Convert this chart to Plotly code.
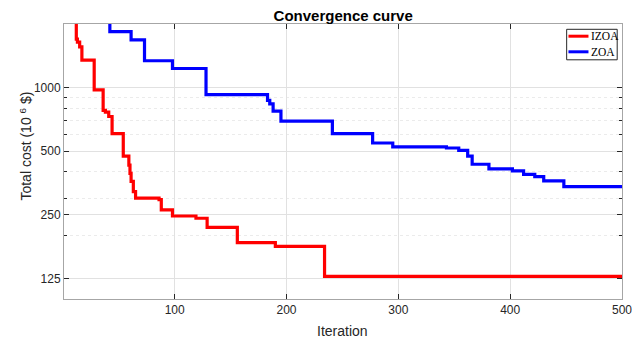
import plotly.graph_objects as go

# ---- data (step breakpoints) ----
izoa_iter = [1, 12, 13, 15, 17, 28, 36, 38, 41, 44, 54, 59, 60, 61, 63, 65, 86, 88, 98, 119, 129, 156, 190, 234, 500]
izoa_cost = [3500, 1695, 1640, 1560, 1350, 975, 780, 765, 730, 606, 474, 430, 393, 360, 322, 300, 295, 264, 247, 241, 218, 185, 177.5, 128, 128]

zoa_iter = [1, 42, 61, 73, 98, 128, 183, 185, 188, 195, 241, 277, 295, 343, 354, 362, 366, 381, 402, 412, 422, 430, 448, 500]
zoa_cost = [3500, 1840, 1682, 1340, 1232, 927, 870, 838, 774, 694, 606, 547, 524, 518, 505, 474, 434, 413, 404, 389, 379, 362, 340, 340]

series_names = ["IZOA", "ZOA"]
series_colors = ["#ff0000", "#0000ff"]

y_ticks = [125, 250, 500, 1000]
y_minor = [100, 200, 300, 400, 600, 700, 800, 900, 2000]
x_ticks = [100, 200, 300, 400, 500]

AX = "#262626"
BOX = "#a6a6a6"
GRID = "#e1e1e1"
MINOR = "#ebebeb"
FONT = "Liberation Sans, Arial, sans-serif"
SERIF = "Liberation Serif, Times New Roman, serif"

# figure geometry (page body adds an 8px offset)
W, H = 632, 334
L, R, T, B = 56.4, 18, 16, 43
PW, PH = W - L - R, H - T - B


def px(fx):
    return (fx - L) / PW


def py(fy):
    return (H - B - fy) / PH


fig = go.Figure()
for name, color, xs, ys in [(series_names[0], series_colors[0], izoa_iter, izoa_cost),
                            (series_names[1], series_colors[1], zoa_iter, zoa_cost)]:
    fig.add_trace(go.Scatter(x=xs, y=ys, mode="lines", name=name, showlegend=False,
                             line=dict(color=color, width=3.2, shape="hv")))

fig.update_layout(
    width=W, height=H,
    margin=dict(l=L, r=R, t=T, b=B, autoexpand=False),
    paper_bgcolor="white", plot_bgcolor="white",
    font=dict(family=FONT, color=AX, size=12),
    title=dict(text="<b>Convergence curve</b>", x=(L + PW / 2) / W, xanchor="center",
               y=1 - 7.3 / H, yanchor="middle", font=dict(size=15, color="black", family=FONT)),
    showlegend=False,
)

fig.update_xaxes(
    range=[1, 500], tickvals=x_ticks, ticktext=[str(v) for v in x_ticks],
    showline=True, linecolor=BOX, linewidth=1, mirror="ticks",
    ticks="inside", ticklen=5, tickcolor=AX, automargin=False,
    showgrid=True, gridcolor=GRID, gridwidth=1, zeroline=False,
    tickfont=dict(size=12, color=AX),
)
fig.update_yaxes(
    type="log", range=[2, 3.30103], tickvals=y_ticks, ticktext=[str(v) for v in y_ticks],
    showline=True, linecolor=BOX, linewidth=1, mirror="ticks",
    ticks="inside", ticklen=5, tickcolor=AX, automargin=False,
    showgrid=True, gridcolor=GRID, gridwidth=1, zeroline=False,
    minor=dict(tickmode="array", tickvals=y_minor, ticks="inside", ticklen=3,
               tickcolor=AX, showgrid=True, gridcolor=MINOR, griddash="dot", gridwidth=1),
    tickfont=dict(size=12, color=AX),
)

# axis labels
fig.add_annotation(text="Iteration", xref="paper", yref="paper", x=px(335), y=py(323),
                   xanchor="center", yanchor="middle", showarrow=False,
                   font=dict(size=14, color=AX, family=FONT))
fig.add_annotation(text="Total cost (10 <sup>6</sup> $)", xref="paper", yref="paper",
                   x=px(18), y=py(138), textangle=-90, xanchor="center", yanchor="middle",
                   showarrow=False, font=dict(size=14, color=AX, family=FONT))

# legend box (MATLAB style)
fig.add_shape(type="rect", xref="paper", yref="paper",
              x0=px(558.7), x1=px(609.2), y0=py(21.3), y1=py(51.8),
              line=dict(color=AX, width=1), fillcolor="white", layer="above")
for i, (name, color) in enumerate(zip(series_names, series_colors)):
    yy = 28.2 + 15.6 * i
    fig.add_shape(type="line", xref="paper", yref="paper",
                  x0=px(560.5), x1=px(580.5), y0=py(yy), y1=py(yy),
                  line=dict(color=color, width=3), layer="above")
    fig.add_annotation(text=name, xref="paper", yref="paper", x=px(580.8), y=py(yy),
                       xanchor="left", yanchor="middle", showarrow=False,
                       font=dict(size=11.5, color="black", family=SERIF))

fig.write_html("out.html")
